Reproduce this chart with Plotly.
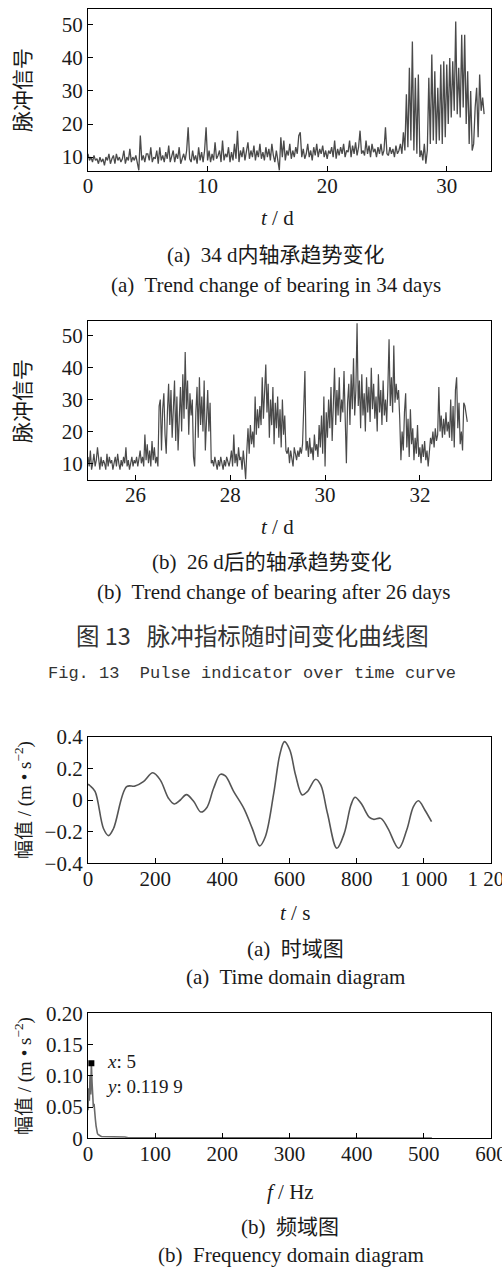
import plotly.graph_objects as go

W, H = 502, 1267

# ---------------- Fig.13 (a): pulse indicator over 34 days (8 samples / day) ----------------
pulse_all_step = 0.125
pulse_all = [
    11, 9, 10, 8.5, 10.5, 9, 9.5, 8,            # day 0
    10, 8.5, 9.5, 7.5, 10, 9, 11, 8,            # day 1
    9.5, 10.5, 8, 11, 9, 10, 8.5, 9.5,          # day 2
    12, 8, 10, 9, 12.5, 8.5, 10, 9,             # day 3
    10.5, 8, 6, 16.5, 9, 10.5, 8.5, 11,         # day 4
    11, 9, 13, 8.5, 10, 9.5, 12, 8,             # day 5
    13, 9, 10.5, 8.5, 11.5, 9.5, 13.5, 8.5,     # day 6
    10, 12, 8.5, 11, 9.5, 13, 8, 10,            # day 7
    11, 9, 12, 19, 9.5, 8.5, 12, 9,             # day 8
    10.5, 8, 13, 9, 11.5, 8.5, 12, 19,          # day 9
    9, 12, 8.5, 11, 9, 14.5, 9.5, 10.5,         # day 10
    12, 8.5, 15, 9, 11, 10, 13, 8.5,            # day 11
    11.5, 9, 14, 9.5, 18, 8.5, 12, 10,          # day 12
    13, 9, 11.5, 14.5, 9.5, 12, 10, 13.5,       # day 13
    9, 12, 10, 14, 9.5, 11.5, 9, 13,            # day 14
    10, 12.5, 9, 14, 10.5, 8.5, 12, 9.5,        # day 15
    6, 16, 10, 15, 9, 12, 10.5, 14,             # day 16
    9.5, 12, 10, 13, 11, 16.5, 17.5, 10,        # day 17
    12.5, 9.5, 11, 14, 10, 12, 9, 13,           # day 18
    10.5, 14, 10, 12.5, 11, 13.5, 10, 12,       # day 19
    9.5, 12, 11, 13, 10, 15, 9.5, 12.5,         # day 20
    10.5, 13, 11, 14, 10, 12, 11.5, 15,         # day 21
    10, 13.5, 11, 14.5, 10.5, 13, 18, 11,       # day 22
    12, 10.5, 15, 11, 13.5, 10, 14, 11.5,       # day 23
    12.5, 10, 13, 11, 14, 10.5, 12, 19,         # day 24
    11, 10.5, 13, 11, 12.5, 10, 13.5, 11,       # day 25
    12, 14, 11, 17.5, 12, 29, 13, 37,           # day 26
    15, 45, 12, 34, 11, 35, 10, 12,             # day 27
    9, 14, 8, 12, 34, 14, 41, 15,               # day 28
    36, 14, 31, 15, 38, 14, 39, 16,             # day 29
    38, 20, 40, 22, 39, 24, 51, 23,             # day 30
    37, 22, 47, 25, 47, 20, 36, 14,             # day 31
    30, 12, 14, 25, 31, 16, 35, 24,             # day 32
    28, 23,                                     # day 33
]
t_all = [i * pulse_all_step for i in range(len(pulse_all))]

# ---------------- Fig.13 (b): pulse indicator after day 25 (40 samples / day) ----------------
pulse_late_start = 25.0
pulse_late_step = 0.025
pulse_late = [
    # day 25
    12, 9, 14, 8, 10, 13, 9, 11, 15, 10, 8, 12, 9, 11, 10, 8, 13, 9, 12, 10,
    11, 8, 10, 12, 9, 13, 10, 8, 11, 9, 12, 10, 15, 9, 11, 8, 10, 12, 9, 11,
    # day 26
    10, 12, 9, 11, 14, 10, 12, 9, 19, 11, 16, 10, 14, 9, 17, 11, 15, 10, 12, 9,
    28, 30, 14, 27, 32, 19, 13, 26, 35, 22, 33, 18, 29, 36, 17, 31, 14, 28, 34, 20,
    # day 27
    38, 24, 45, 27, 36, 19, 32, 25, 30, 12, 9, 26, 34, 18, 37, 22, 31, 20, 36, 14,
    27, 33, 20, 29, 10, 11, 9, 12, 10, 8, 11, 9, 12, 10, 8, 11, 9, 12, 10, 9,
    # day 28
    11, 14, 9, 19, 10, 13, 9, 15, 11, 12, 8, 14, 10, 5, 14, 21, 13, 22, 16, 20,
    15, 31, 19, 27, 21, 28, 22, 37, 24, 33, 41, 26, 35, 18, 30, 22, 34, 16, 29, 21,
    # day 29
    31, 18, 27, 15, 30, 19, 25, 14, 13, 15, 10, 14, 12, 9, 15, 13, 11, 14, 12, 15,
    13, 16, 30, 39, 14, 17, 12, 18, 13, 15, 11, 19, 14, 16, 12, 22, 15, 25, 13, 31,
    # day 30
    9, 26, 18, 30, 21, 34, 17, 28, 40, 22, 33, 25, 37, 23, 30, 26, 39, 24, 10, 29,
    35, 22, 38, 27, 43, 25, 33, 54, 28, 36, 21, 38, 25, 32, 20, 37, 26, 34, 23, 40,
    # day 31
    27, 35, 24, 31, 20, 38, 26, 33, 22, 36, 25, 30, 23, 34, 49, 28, 37, 26, 47, 29,
    35, 30, 33, 24, 11, 20, 14, 26, 32, 15, 24, 12, 27, 16, 21, 11, 18, 13, 22, 12,
    # day 32
    15, 10, 16, 12, 17, 11, 14, 9, 15, 18, 16, 20, 15, 21, 17, 19, 34, 20, 25, 18,
    24, 19, 26, 20, 23, 18, 30, 17, 28, 15, 33, 37, 21, 29, 16, 20, 14, 29, 28, 26,
    # day 33
    23,
]
t_late = [pulse_late_start + i * pulse_late_step for i in range(len(pulse_late))]

# ---------------- Fig.14 (a): time domain signal ----------------
time_s = [0, 6, 21, 46, 61, 76, 115, 140, 165, 193, 215, 240, 257, 275, 293, 315,
          336, 354, 374, 394, 409, 434, 464, 489, 511, 528, 553, 571, 585, 601, 618,
          638, 653, 678, 693, 713, 741, 763, 783, 795, 813, 838, 850, 872, 893, 925,
          949, 969, 984, 1003, 1023]
amp_time = [0.10, 0.09, 0.055, -0.18, -0.225, -0.18, 0.084, 0.088, 0.116, 0.172, 0.127,
            0.01, -0.025, 0.0, 0.034, -0.01, -0.076, -0.047, 0.074, 0.162, 0.152, 0.053,
            -0.053, -0.179, -0.29, -0.232, 0.042, 0.285, 0.369, 0.316, 0.158, 0.032, 0.053,
            0.131, 0.095, -0.084, -0.305, -0.211, -0.032, 0.017, -0.021, -0.11, -0.122,
            -0.116, -0.179, -0.305, -0.19, -0.042, -0.005, -0.063, -0.137]

# ---------------- Fig.14 (b): frequency spectrum ----------------
freq_hz = [0, 1, 2, 3, 4, 5, 6, 7, 8, 9, 10, 11, 12, 13, 14, 15, 16, 18, 20, 25, 30,
           35, 40, 45, 50, 55, 60, 100, 200, 300, 400, 512]
amp_freq = [0.045, 0.08, 0.06, 0.10, 0.07, 0.1199, 0.09, 0.075, 0.05, 0.055, 0.035, 0.03,
            0.02, 0.012, 0.008, 0.006, 0.005, 0.004, 0.003, 0.003, 0.002, 0.003, 0.002,
            0.003, 0.002, 0.002, 0.001, 0.001, 0.0005, 0.0005, 0.0005, 0.0005]
peak_f, peak_a = 5, 0.1199

x_ticks_all = [0, 10, 20, 30]
x_ticks_late = [26, 28, 30, 32]
y_ticks_pulse = [10, 20, 30, 40, 50]
x_ticks_time = [0, 200, 400, 600, 800, 1000, 1200]
x_ticktext_time = ["0", "200", "400", "600", "800", "1 000", "1 200"]
y_ticks_time = [-0.4, -0.2, 0, 0.2, 0.4]
y_ticktext_time = ["\u22120.4", "\u22120.2", "0", "0.2", "0.4"]
x_ticks_freq = [0, 100, 200, 300, 400, 500, 600]
y_ticks_freq = [0, 0.05, 0.10, 0.15, 0.20]
y_ticktext_freq = ["0", "0.05", "0.10", "0.15", "0.20"]

SERIF = "Liberation Serif, Times New Roman, serif"
CJK = "Liberation Serif, Noto Sans CJK SC, serif"
MONO = "Liberation Mono, monospace"
TXT = "#1a1a1a"


def px_x(p):
    return p / W


def px_y(p):
    return 1 - p / H


def axis_style(**kw):
    d = dict(showline=True, linecolor="black", linewidth=1.3, mirror=True,
             ticks="inside", ticklen=5, tickwidth=1.2, tickcolor="black",
             showgrid=False, zeroline=False, automargin=False,
             ticklabeloverflow="allow",
             tickfont=dict(family=SERIF, size=21, color=TXT))
    d.update(kw)
    return d


def xaxis_style(**kw):
    return axis_style(ticklabelstandoff=-4, **kw)


fig = go.Figure()

fig.add_trace(go.Scatter(x=t_all, y=pulse_all, mode="lines",
                         line=dict(color="#4a4a4a", width=1.3),
                         xaxis="x", yaxis="y"))
fig.add_trace(go.Scatter(x=t_late, y=pulse_late, mode="lines",
                         line=dict(color="#4a4a4a", width=1.2),
                         xaxis="x2", yaxis="y2"))
fig.add_trace(go.Scatter(x=time_s, y=amp_time, mode="lines",
                         line=dict(color="#555555", width=1.6, shape="spline", smoothing=1.0),
                         xaxis="x3", yaxis="y3"))
fig.add_trace(go.Scatter(x=freq_hz, y=amp_freq, mode="lines",
                         line=dict(color="#6a6a6a", width=1.6),
                         xaxis="x4", yaxis="y4"))
fig.add_trace(go.Scatter(x=[peak_f], y=[peak_a], mode="markers",
                         marker=dict(symbol="square", size=6, color="black"),
                         xaxis="x4", yaxis="y4"))

xdom = [px_x(88), px_x(491)]
fig.update_layout(
    width=W, height=H, margin=dict(l=0, r=0, t=0, b=0, autoexpand=False),
    paper_bgcolor="white", plot_bgcolor="white", showlegend=False,
    xaxis=xaxis_style(domain=xdom, anchor="y", range=[0, 33.7], tickvals=x_ticks_all),
    yaxis=axis_style(domain=[px_y(171), px_y(9)], anchor="x", range=[5.8, 54.8],
                     tickvals=y_ticks_pulse),
    xaxis2=xaxis_style(domain=xdom, anchor="y2", range=[25, 33.5], tickvals=x_ticks_late),
    yaxis2=axis_style(domain=[px_y(480), px_y(320.7)], anchor="x2", range=[4.75, 54.8],
                      tickvals=y_ticks_pulse),
    xaxis3=xaxis_style(domain=xdom, anchor="y3", range=[0, 1200], tickvals=x_ticks_time,
                       ticktext=x_ticktext_time),
    yaxis3=axis_style(domain=[px_y(863.3), px_y(736.7)], anchor="x3", range=[-0.4, 0.4],
                      tickvals=y_ticks_time, ticktext=y_ticktext_time),
    xaxis4=xaxis_style(domain=xdom, anchor="y4", range=[0, 600], tickvals=x_ticks_freq),
    yaxis4=axis_style(domain=[px_y(1138.3), px_y(1013.3)], anchor="x4", range=[0, 0.2],
                      tickvals=y_ticks_freq, ticktext=y_ticktext_freq),
)


def label(text, x, y, size=21, family=CJK, angle=0, xanchor="center", color=TXT):
    fig.add_annotation(text=text, x=px_x(x), y=px_y(y), xref="paper", yref="paper",
                       showarrow=False, textangle=angle, xanchor=xanchor, yanchor="middle",
                       align="left", font=dict(family=family, size=size, color=color))


# Fig.13 (a)
label("脉冲信号", 23, 90, angle=-90)
label("<i>t</i> / d", 277, 218)
label("(a)  34 d内轴承趋势变化", 276, 255)
label("(a)  Trend change of bearing in 34 days", 276, 285)
# Fig.13 (b)
label("脉冲信号", 23, 401, angle=-90)
label("<i>t</i> / d", 277, 527)
label("(b)  26 d后的轴承趋势变化", 272, 562)
label("(b)  Trend change of bearing after 26 days", 273, 592)
# Fig.13 caption
label("图 13   脉冲指标随时间变化曲线图", 252, 635, size=23.5, family="Noto Sans CJK SC", color="#333333")
label("Fig. 13  Pulse indicator over time curve", 252, 673, size=17, family=MONO, color="#333333")
# Fig.14 (a)
label("幅值 / (m • s<sup>−2</sup>)", 23, 800, size=19, angle=-90)
label("<i>t</i> / s", 295, 913)
label("(a)  时域图", 295, 949)
label("(a)  Time domain diagram", 295, 977)
# Fig.14 (b)
label("幅值 / (m • s<sup>−2</sup>)", 23, 1076, size=19, angle=-90)
label("<i>x</i>: 5<br><i>y</i>: 0.119 9", 104, 1074, size=19, xanchor="left")
label("<i>f</i> / Hz", 290, 1192)
label("(b)  频域图", 290, 1227)
label("(b)  Frequency domain diagram", 291, 1255)

fig.write_html("out.html")
